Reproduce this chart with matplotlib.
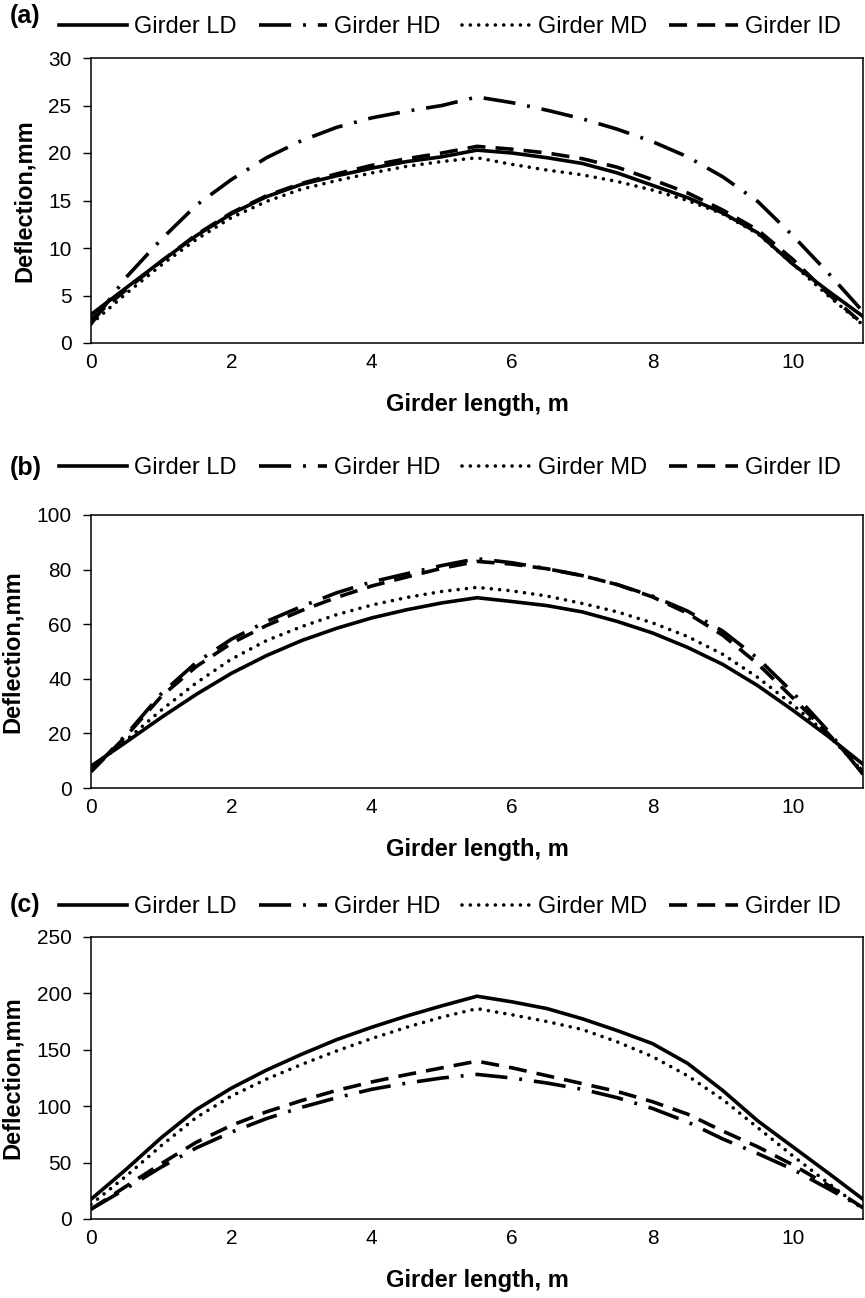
import matplotlib.pyplot as plt
import numpy as np

plt.rcParams['font.family'] = ['Liberation Sans', 'DejaVu Sans']

# positions along the girder (m)
girder_x = [0, 0.5, 1, 1.5, 2, 2.5, 3, 3.5, 4, 4.5, 5, 5.5,
            6, 6.5, 7, 7.5, 8, 8.5, 9, 9.5, 10, 10.5, 11]

series_names = ['Girder LD', 'Girder HD', 'Girder MD', 'Girder ID']

# deflections (mm), case (a)
a_ld = [3.0, 5.8, 8.6, 11.3, 13.6, 15.4, 16.7, 17.6, 18.4, 19.1, 19.6, 20.3,
        20.0, 19.5, 18.9, 17.9, 16.6, 15.3, 13.7, 11.6, 8.3, 5.5, 2.8]
a_hd = [2.0, 6.9, 10.9, 14.5, 17.2, 19.5, 21.3, 22.7, 23.7, 24.4, 25.0, 25.9,
        25.3, 24.5, 23.6, 22.5, 21.2, 19.6, 17.5, 14.9, 11.3, 7.4, 3.3]
a_md = [2.0, 5.2, 8.2, 10.9, 13.2, 14.9, 16.2, 17.1, 17.9, 18.6, 19.1, 19.5,
        18.8, 18.2, 17.7, 17.0, 16.1, 15.0, 13.6, 11.5, 8.3, 5.0, 1.9]
a_id = [2.5, 5.6, 8.6, 11.4, 13.7, 15.5, 16.8, 17.8, 18.7, 19.4, 20.0, 20.7,
        20.4, 20.0, 19.4, 18.5, 17.2, 15.8, 14.0, 11.9, 8.8, 5.2, 2.0]

# deflections (mm), case (b)
b_ld = [8.0, 16.8, 25.8, 34.3, 42.0, 48.5, 54.0, 58.5, 62.3, 65.3, 67.8, 69.7,
        68.3, 66.8, 64.5, 61.0, 56.8, 51.5, 45.3, 37.5, 28.5, 19.0, 8.7]
b_hd = [6.0, 19.5, 34.5, 46.0, 54.5, 61.0, 66.5, 71.5, 75.5, 78.5, 81.5, 84.0,
        82.5, 80.3, 77.8, 74.5, 70.3, 64.8, 57.5, 47.5, 35.0, 21.0, 5.0]
b_md = [7.0, 17.5, 28.5, 38.5, 47.2, 54.0, 59.1, 63.5, 67.0, 69.8, 72.0, 73.5,
        72.2, 70.3, 67.6, 64.5, 60.5, 55.5, 49.0, 40.5, 30.5, 19.5, 6.0]
b_id = [6.0, 19.0, 33.5, 44.5, 53.0, 59.5, 65.0, 69.8, 74.0, 77.3, 80.5, 83.0,
        82.0, 80.3, 77.8, 74.5, 70.0, 64.0, 56.0, 45.5, 33.0, 20.0, 6.0]

# deflections (mm), case (c)
c_ld = [17.5, 44.0, 72.0, 97.0, 116.0, 132.0, 146.0, 159.0, 170.0, 180.0, 189.0, 197.5,
        192.5, 186.5, 177.5, 167.0, 155.5, 138.0, 114.0, 87.0, 64.0, 41.0, 17.5]
c_hd = [8.7, 27.0, 46.0, 63.0, 77.0, 89.0, 99.0, 107.5, 115.0, 120.5, 125.0, 128.2,
        125.0, 120.5, 115.0, 107.5, 98.0, 86.0, 71.0, 58.0, 44.0, 27.0, 10.0]
c_md = [13.0, 38.0, 65.0, 90.0, 109.0, 124.0, 137.0, 149.0, 160.0, 170.0, 179.0, 186.5,
        181.0, 175.0, 168.0, 157.0, 144.0, 127.0, 106.0, 81.0, 56.0, 32.0, 8.7]
c_id = [8.7, 29.0, 49.0, 68.0, 83.0, 95.0, 105.0, 114.0, 121.5, 128.0, 134.0, 139.9,
        134.0, 127.0, 120.0, 113.0, 104.0, 93.0, 78.0, 64.0, 48.0, 30.0, 10.0]

x_ticks = [0, 2, 4, 6, 8, 10]

W, H = 865, 1298


def px_box(left, top, right, bottom):
    # pixel box -> figure fraction rectangle
    return [left / W, 1 - bottom / H, (right - left) / W, (bottom - top) / H]


def draw_panel(fig, box, curves, y_max, y_step, tag, tag_y, legend_y):
    ax = fig.add_axes(px_box(*box))
    x = np.array(girder_x)

    lw = 2.6
    ax.plot(x, curves[0], color='black', lw=lw, linestyle='-')
    ax.plot(x, curves[1], color='black', lw=lw, linestyle=(0, (8.9, 3.3, 0.8, 3.3)))
    ax.plot(x, curves[2], color='black', lw=lw, linestyle=(0, (0.01, 2.3)),
            dash_capstyle='round')
    ax.plot(x, curves[3], color='black', lw=lw, linestyle=(0, (5.0, 2.8)))

    ax.set_xlim(0, 11)
    ax.set_ylim(0, y_max)
    ax.set_xticks(x_ticks)
    ax.set_yticks(np.arange(0, y_max + 1, y_step))
    ax.tick_params(axis='x', length=0, pad=7, labelsize=15)
    ax.tick_params(axis='y', direction='out', length=5.5, width=1, pad=8.5, labelsize=15)
    for s in ax.spines.values():
        s.set_linewidth(1.1)

    ax.set_xlabel('Girder length, m', fontsize=17, fontweight='bold', labelpad=15)
    ax.set_ylabel('Deflection,mm', fontsize=17, fontweight='bold', labelpad=9)

    fig.text(10 / W, 1 - tag_y / H, tag, fontsize=18, fontweight='bold',
             ha='left', va='center')
    ax.legend(ax.get_lines(), series_names, loc='center', ncol=4, frameon=False,
              fontsize=17, handlelength=2.9, handletextpad=0.3, columnspacing=0.93,
              borderpad=0, borderaxespad=0,
              bbox_to_anchor=(449.5 / W, 1 - legend_y / H),
              bbox_transform=fig.transFigure)
    return ax


fig = plt.figure(figsize=(W / 100, H / 100), dpi=100)

draw_panel(fig, (91, 58, 863, 343), [a_ld, a_hd, a_md, a_id], 30, 5, '(a)', 16, 27)
draw_panel(fig, (91, 515, 863, 788), [b_ld, b_hd, b_md, b_id], 100, 20, '(b)', 468, 468)
draw_panel(fig, (91, 937, 863, 1219), [c_ld, c_hd, c_md, c_id], 250, 50, '(c)', 905, 907)

plt.savefig('out.png', dpi=100)
